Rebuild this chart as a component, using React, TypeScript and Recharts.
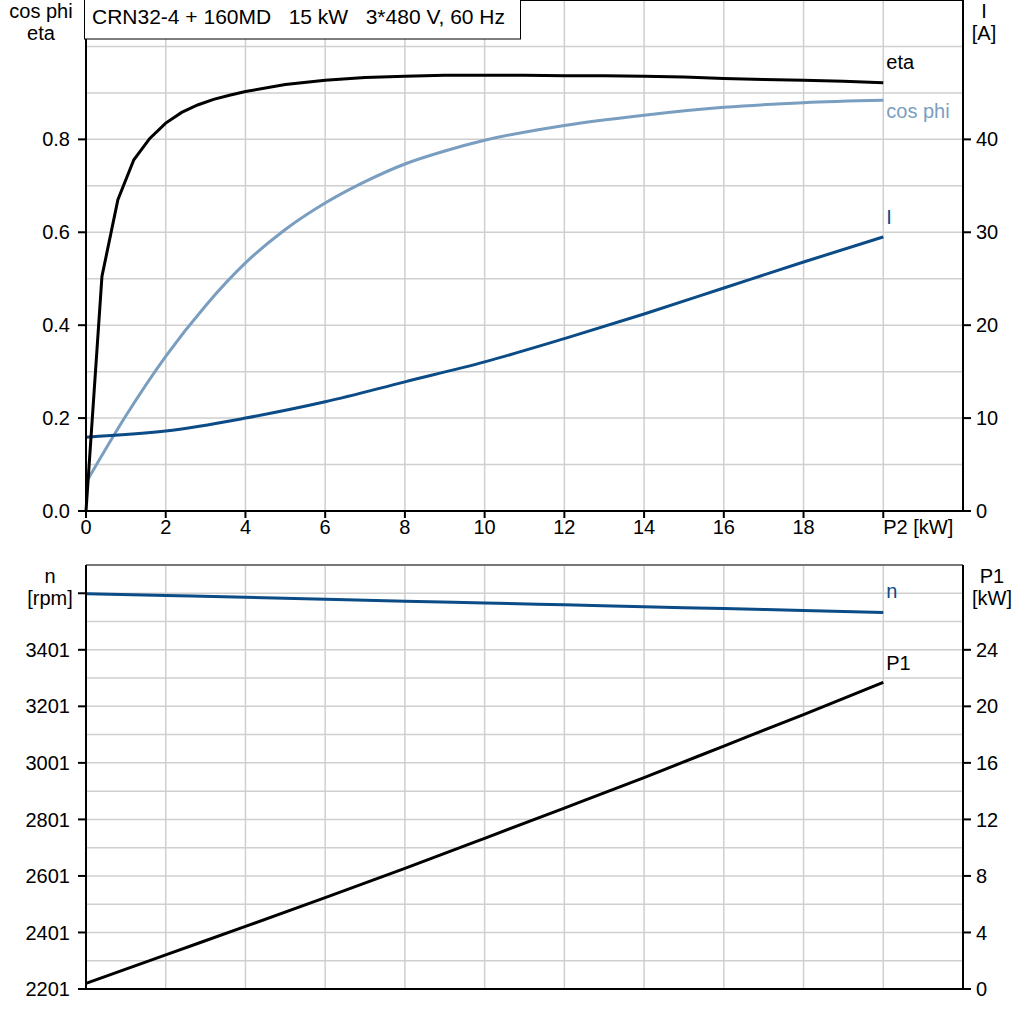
import React from "react";
import { Line, LineChart, ReferenceLine, XAxis, YAxis } from "recharts";

// P2 [kW] sample points
const P2_ETA = [0, 0.4, 0.8, 1.2, 1.6, 2, 2.4, 2.8, 3.2, 3.6, 4, 5, 6, 7, 8, 9, 10, 11, 12, 13, 14, 15, 16, 17, 18, 19, 20];
const ETA = [0, 0.505, 0.67, 0.756, 0.802, 0.835, 0.858, 0.874, 0.886, 0.895, 0.903, 0.918, 0.927, 0.933, 0.936, 0.938, 0.938, 0.938, 0.937, 0.937, 0.936, 0.934, 0.931, 0.929, 0.927, 0.925, 0.922];

const P2_COS = [0, 1, 2, 3, 4, 5, 6, 7, 8, 9, 10, 12, 14, 16, 18, 20];
const COS_PHI = [0.061, 0.205, 0.333, 0.442, 0.534, 0.606, 0.663, 0.709, 0.747, 0.775, 0.798, 0.83, 0.852, 0.869, 0.879, 0.884];

const P2_STEP = [0, 2, 4, 6, 8, 10, 12, 14, 16, 18, 20];
const CURRENT = [7.95, 8.6, 10.0, 11.75, 13.9, 16.05, 18.55, 21.2, 24.0, 26.8, 29.5];
const SPEED = [3599, 3593, 3587, 3580, 3573, 3567, 3560, 3553, 3547, 3540, 3533];
const P1 = [0.4, 2.42, 4.43, 6.47, 8.54, 10.66, 12.8, 14.96, 17.19, 19.42, 21.7];

// axes
const X_TICKS = [0, 2, 4, 6, 8, 10, 12, 14, 16, 18, 20];
const COS_TICKS = [0, 0.2, 0.4, 0.6, 0.8];
const COS_GRID = [0.1, 0.2, 0.3, 0.4, 0.5, 0.6, 0.7, 0.8, 0.9, 1.0];
const I_TICKS = [0, 10, 20, 30, 40];
const N_TICKS = [2201, 2401, 2601, 2801, 3001, 3201, 3401, 3601];
const N_GRID = [2301, 2401, 2501, 2601, 2701, 2801, 2901, 3001, 3101, 3201, 3301, 3401, 3501, 3601];
const P1_TICKS = [0, 4, 8, 12, 16, 20, 24];

const TITLE = "CRN32-4 + 160MD   15 kW   3*480 V, 60 Hz";

const C_ETA = "#000000";
const C_COS = "#7a9ec0";
const C_I = "#0b4b86";
const GRID = "#cfcfcf";
const FONT = "'Liberation Sans', Arial, sans-serif";
const FS = 20;

const pts = (xs: number[], ys: number[]) => xs.map((x, i) => ({ p2: x, v: ys[i] }));

const endLabel = (text: string, color: string, dy: number, count: number) => (props: any) =>
  props.index === count - 1 ? (
    <text key={text} x={props.x + 3} y={props.y + dy} fill={color} fontSize={FS} fontFamily={FONT}>
      {text}
    </text>
  ) : null;

const XTick = (props: any) => {
  const { x, y, payload } = props;
  const last = payload.value === 20;
  return (
    <text x={x} y={y} dy="0.71em" textAnchor={last ? "start" : "middle"} fill="#000" fontSize={FS} fontFamily={FONT}>
      {last ? "P2 [kW]" : payload.value}
    </text>
  );
};

const tickStyle = { fill: "#000", fontSize: FS, fontFamily: FONT };

export default function App() {
  return (
    <div style={{ position: "absolute", left: 0, top: 0, width: 1024, height: 1024, background: "#fff", fontFamily: FONT }}>
      <div style={{ position: "absolute", left: 0, top: 0 }}>
        <LineChart width={1024} height={541} margin={{ top: 0, right: 0, bottom: 0, left: 0 }}>
          <XAxis
            dataKey="p2"
            type="number"
            domain={[0, 22]}
            ticks={X_TICKS}
            interval={0}
            height={30}
            stroke="#000"
            strokeWidth={2}
            tickSize={7}
            tickMargin={2}
            tick={<XTick />}
          />
          <YAxis
            yAxisId="left"
            domain={[0, 1.1]}
            ticks={COS_TICKS}
            interval={0}
            width={86}
            stroke="#000"
            strokeWidth={2}
            tickSize={8}
            tickMargin={8}
            tick={tickStyle}
            tickFormatter={(v: number) => v.toFixed(1)}
          />
          <YAxis
            yAxisId="right"
            orientation="right"
            domain={[0, 55]}
            ticks={I_TICKS}
            interval={0}
            width={61}
            stroke="#000"
            strokeWidth={2}
            tickSize={8}
            tickMargin={5}
            tick={tickStyle}
          />
          {COS_GRID.map((v) => (
            <ReferenceLine key={"h" + v} yAxisId="left" y={v} stroke={GRID} strokeWidth={1.5} />
          ))}
          {X_TICKS.slice(1).map((v) => (
            <ReferenceLine key={"v" + v} yAxisId="left" x={v} stroke={GRID} strokeWidth={1.5} />
          ))}
          <ReferenceLine yAxisId="left" y={1.1} stroke="#000" strokeWidth={2} />
          <Line
            yAxisId="left"
            data={pts(P2_COS, COS_PHI)}
            dataKey="v"
            type="monotone"
            stroke={C_COS}
            strokeWidth={3}
            dot={false}
            isAnimationActive={false}
            label={endLabel("cos phi", C_COS, 18, P2_COS.length)}
          />
          <Line
            yAxisId="right"
            data={pts(P2_STEP, CURRENT)}
            dataKey="v"
            type="monotone"
            stroke={C_I}
            strokeWidth={3}
            dot={false}
            isAnimationActive={false}
            label={endLabel("I", C_I, -13, P2_STEP.length)}
          />
          <Line
            yAxisId="left"
            data={pts(P2_ETA, ETA)}
            dataKey="v"
            type="linear"
            stroke={C_ETA}
            strokeWidth={3}
            dot={false}
            isAnimationActive={false}
            label={endLabel("eta", C_ETA, -14, P2_ETA.length)}
          />
        </LineChart>
      </div>

      <div style={{ position: "absolute", left: 0, top: 560 }}>
        <LineChart width={1024} height={454} margin={{ top: 5, right: 0, bottom: 0, left: 0 }}>
          <XAxis
            dataKey="p2"
            type="number"
            domain={[0, 22]}
            ticks={X_TICKS}
            height={25}
            stroke="#000"
            strokeWidth={2}
            tick={false}
            tickLine={false}
          />
          <YAxis
            yAxisId="n"
            domain={[2201, 3701]}
            ticks={N_TICKS}
            interval={0}
            width={86}
            stroke="#000"
            strokeWidth={2}
            tickSize={8}
            tickMargin={8}
            tick={tickStyle}
            tickFormatter={(v: number) => (v === 3601 ? "" : String(v))}
          />
          <YAxis
            yAxisId="p1"
            orientation="right"
            domain={[0, 30]}
            ticks={P1_TICKS}
            interval={0}
            width={61}
            stroke="#000"
            strokeWidth={2}
            tickSize={8}
            tickMargin={5}
            tick={tickStyle}
          />
          {N_GRID.map((v) => (
            <ReferenceLine key={"h" + v} yAxisId="n" y={v} stroke={GRID} strokeWidth={1.5} />
          ))}
          {X_TICKS.slice(1).map((v) => (
            <ReferenceLine key={"v" + v} yAxisId="n" x={v} stroke={GRID} strokeWidth={1.5} />
          ))}
          <ReferenceLine yAxisId="n" y={3701} stroke="#777" strokeWidth={2} />
          <Line
            yAxisId="n"
            data={pts(P2_STEP, SPEED)}
            dataKey="v"
            type="monotone"
            stroke={C_I}
            strokeWidth={3}
            dot={false}
            isAnimationActive={false}
            label={endLabel("n", C_I, -14, P2_STEP.length)}
          />
          <Line
            yAxisId="p1"
            data={pts(P2_STEP, P1)}
            dataKey="v"
            type="monotone"
            stroke={C_ETA}
            strokeWidth={3}
            dot={false}
            isAnimationActive={false}
            label={endLabel("P1", C_ETA, -12, P2_STEP.length)}
          />
        </LineChart>
      </div>

      <svg
        width={1024}
        height={1024}
        style={{ position: "absolute", left: 0, top: 0, pointerEvents: "none" }}
        fontFamily={FONT}
        fontSize={FS}
      >
        <rect x={84.5} y={-1} width={436} height={40} fill="#fff" stroke="#000" strokeWidth={1} />
        <text x={92} y={24} fontSize={21} style={{ whiteSpace: "pre" }}>
          {TITLE}
        </text>
        <text x={41} y={18} textAnchor="middle">cos phi</text>
        <text x={41} y={40} textAnchor="middle">eta</text>
        <text x={984} y={18} textAnchor="middle">I</text>
        <text x={984} y={40} textAnchor="middle">[A]</text>
        <text x={50} y={583} textAnchor="middle">n</text>
        <text x={50} y={605} textAnchor="middle">[rpm]</text>
        <text x={992} y={583} textAnchor="middle">P1</text>
        <text x={992} y={605} textAnchor="middle">[kW]</text>
      </svg>
    </div>
  );
}
